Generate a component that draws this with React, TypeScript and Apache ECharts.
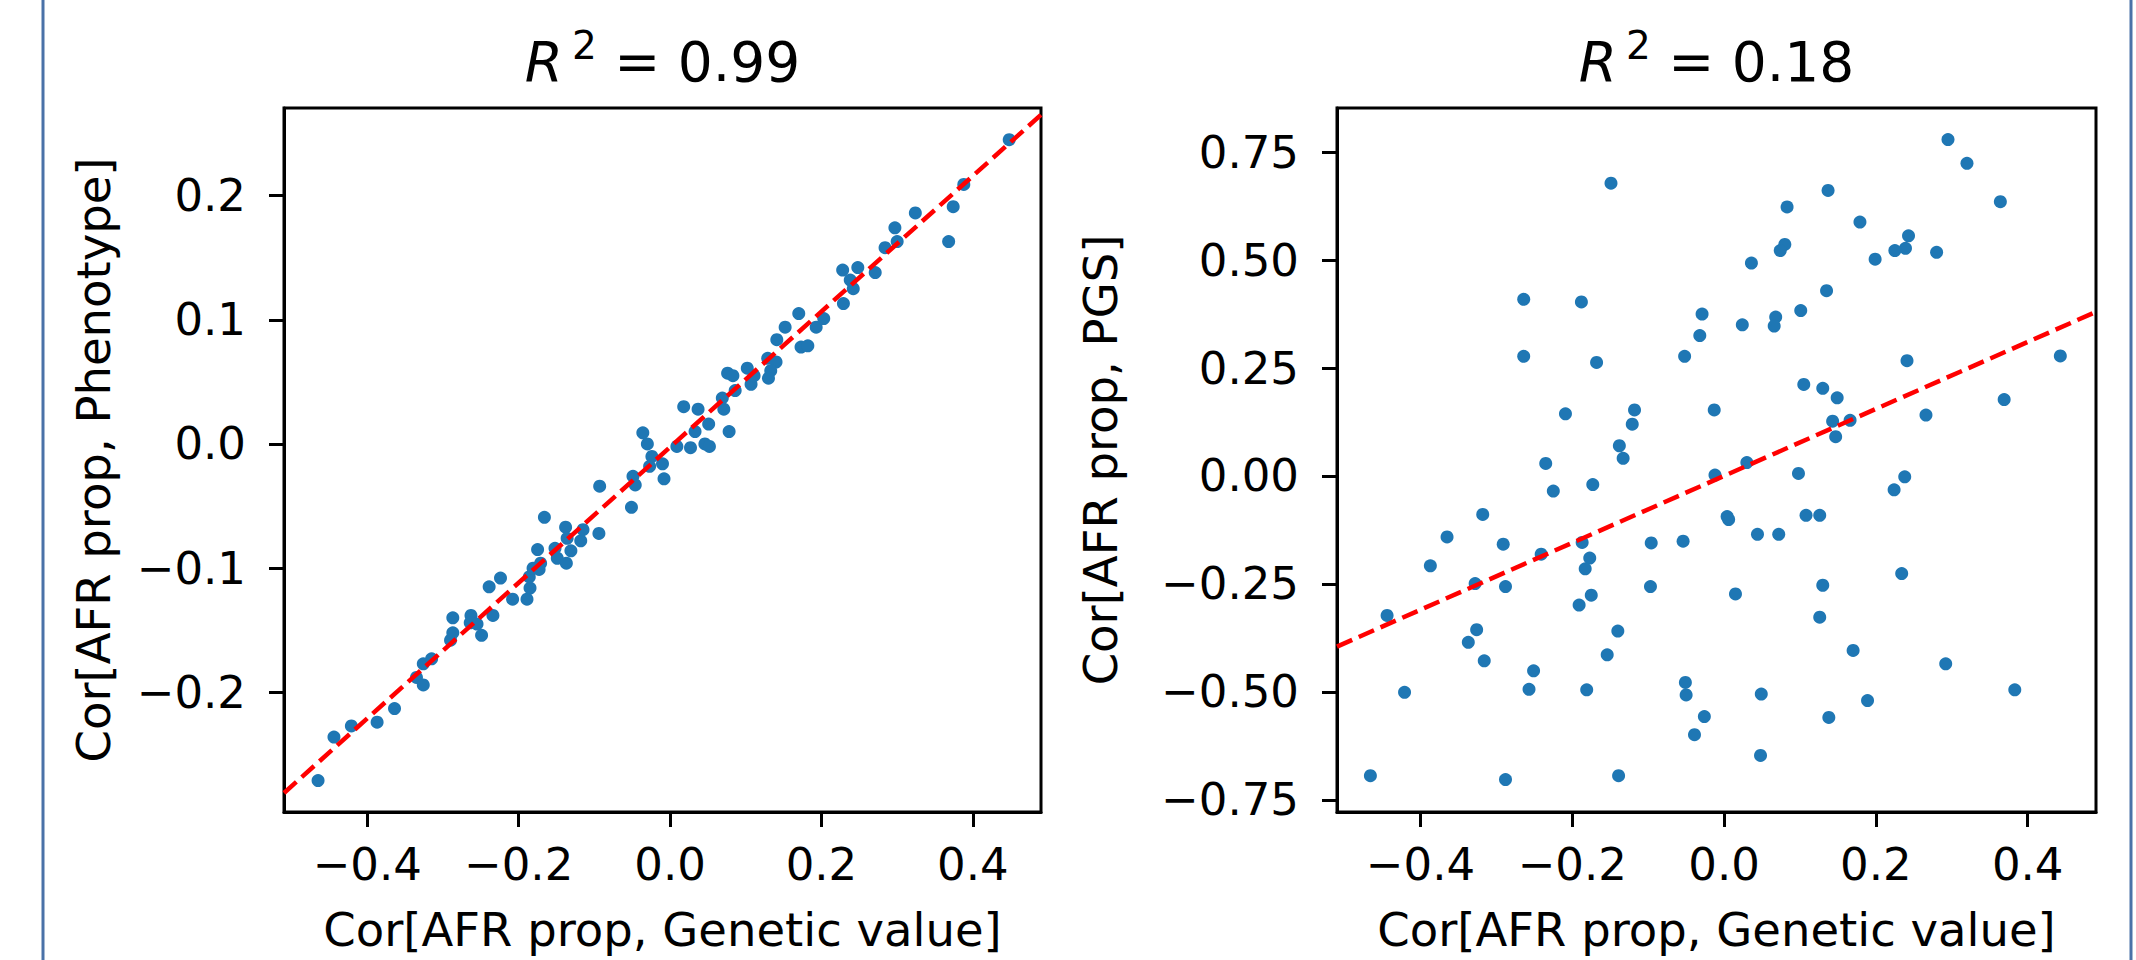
import React, { useEffect, useRef } from "react";
import * as echarts from "echarts";

// ---- data ----
const phenoX = [
  -0.465, -0.444, -0.421, -0.387, -0.364, -0.335, -0.326, -0.326, -0.315, -0.29,
  -0.287, -0.287, -0.263, -0.264, -0.255, -0.249, -0.234, -0.239, -0.224, -0.208,
  -0.189, -0.185, -0.186, -0.181, -0.173, -0.171, -0.175, -0.166, -0.152, -0.149,
  -0.137, -0.131, -0.138, -0.136, -0.118, -0.115, -0.094, -0.093, -0.051, -0.049,
  -0.046, -0.036, -0.03, -0.024, -0.027, -0.01, -0.008, 0.009, 0.027, 0.018,
  0.037, 0.033, 0.051, 0.046, 0.052, 0.078, 0.071, 0.069, 0.076, 0.083,
  0.086, 0.102, 0.107, 0.111, 0.129, 0.14, 0.133, 0.13, 0.141, 0.152,
  0.17, 0.193, 0.203, 0.173, 0.182, 0.229, 0.228, 0.248, 0.242, 0.238,
  0.271, 0.284, 0.297, 0.3, 0.324, 0.368, 0.374, 0.388, 0.448,
];
const phenoY = [
  -0.271, -0.236, -0.227, -0.224, -0.213, -0.188, -0.194, -0.177, -0.173, -0.158,
  -0.152, -0.14, -0.138, -0.144, -0.145, -0.154, -0.138, -0.115, -0.108, -0.125,
  -0.125, -0.116, -0.107, -0.1, -0.101, -0.096, -0.085, -0.059, -0.084, -0.092,
  -0.096, -0.086, -0.067, -0.076, -0.078, -0.069, -0.072, -0.034, -0.051, -0.026,
  -0.033, 0.009, 0.0, -0.01, -0.018, -0.016, -0.028, -0.002, -0.003, 0.03,
  0.028, 0.01, 0.016, 0.0, -0.002, 0.01, 0.028, 0.037, 0.057, 0.055,
  0.043, 0.061, 0.048, 0.055, 0.069, 0.066, 0.059, 0.053, 0.084, 0.094,
  0.105, 0.094, 0.101, 0.078, 0.079, 0.113, 0.14, 0.142, 0.125, 0.132,
  0.138, 0.158, 0.174, 0.163, 0.186, 0.163, 0.191, 0.209, 0.245,
];
const pgsX = [
  -0.149, -0.264, -0.188, -0.029, -0.032, -0.264, -0.052, -0.168, -0.013, -0.209,
  -0.118, -0.121, -0.138, -0.133, -0.235, -0.173, -0.012, 0.295, 0.32, 0.137,
  0.083, 0.364, 0.179, 0.243, 0.239, 0.225, 0.28, 0.199, 0.08, 0.074,
  0.036, 0.135, 0.101, 0.068, 0.066, 0.024, 0.241, 0.443, 0.105, 0.13,
  0.149, 0.369, 0.143, 0.166, 0.147, 0.266, 0.03, 0.098, 0.238, -0.225,
  -0.318, -0.365, -0.291, -0.187, -0.241, -0.096, -0.054, -0.177, -0.183, -0.387,
  -0.328, -0.288, -0.097, -0.175, -0.191, -0.444, -0.326, -0.14, -0.337, -0.316,
  -0.154, -0.251, -0.257, -0.181, -0.421, -0.051, -0.05, -0.026, -0.039, -0.466,
  -0.288, -0.139, 0.224, 0.004, 0.006, 0.108, 0.126, 0.044, 0.072, 0.234,
  0.13, 0.015, 0.126, 0.17, 0.292, 0.383, 0.049, 0.189, 0.138, 0.048,
];
const pgsY = [
  0.678, 0.409, 0.403, 0.375, 0.325, 0.277, 0.277, 0.263, 0.153, 0.144,
  0.153, 0.12, 0.07, 0.041, 0.029, -0.02, 0.002, 0.779, 0.724, 0.661,
  0.623, 0.635, 0.588, 0.556, 0.527, 0.522, 0.518, 0.502, 0.536, 0.522,
  0.493, 0.429, 0.383, 0.368, 0.347, 0.35, 0.267, 0.278, 0.212, 0.203,
  0.181, 0.177, 0.127, 0.129, 0.091, 0.141, 0.031, 0.006, -0.002, -0.035,
  -0.089, -0.141, -0.158, -0.154, -0.181, -0.155, -0.151, -0.19, -0.215, -0.208,
  -0.249, -0.256, -0.256, -0.276, -0.299, -0.323, -0.356, -0.359, -0.385, -0.428,
  -0.414, -0.451, -0.494, -0.495, -0.501, -0.478, -0.507, -0.557, -0.599, -0.694,
  -0.703, -0.694, -0.032, -0.094, -0.101, -0.091, -0.091, -0.135, -0.135, -0.226,
  -0.253, -0.273, -0.327, -0.404, -0.435, -0.495, -0.505, -0.52, -0.559, -0.647,
];
const fitPhenoX = [-0.51, 0.49];
const fitPhenoY = [-0.281, 0.265];
const fitPgsX = [-0.51, 0.49];
const fitPgsY = [-0.395, 0.38];

const xTicks = [-0.4, -0.2, 0, 0.2, 0.4];
const phenoTicks = [-0.2, -0.1, 0, 0.1, 0.2];
const pgsTicks = [-0.75, -0.5, -0.25, 0, 0.25, 0.5, 0.75];
const r2Values = ["0.99", "0.18"];
const xName = "Cor[AFR prop, Genetic value]";
const yNames = ["Cor[AFR prop, Phenotype]", "Cor[AFR prop, PGS]"];

const FONT = "DejaVu Sans";
const GRIDS = [
  { left: 284, top: 108, width: 757, height: 704 },
  { left: 1337, top: 108, width: 759, height: 704 },
];

const fmt = (d: number) => (v: number) =>
  (v < -1e-9 ? "\u2212" : "") + Math.abs(v).toFixed(d);

const zip = (a: number[], b: number[]) => a.map((x, i) => [x, b[i]]);

function xAxisCfg(gridIndex: number) {
  return {
    type: "value",
    gridIndex,
    min: -0.51,
    max: 0.49,
    name: xName,
    nameLocation: "middle",
    nameGap: 94,
    nameTextStyle: { fontFamily: FONT, fontSize: 46.5, color: "#000" },
    axisLine: { show: true, onZero: false, lineStyle: { color: "#000", width: 3 } },
    axisTick: { show: true, inside: false, length: 15, customValues: xTicks, lineStyle: { color: "#000", width: 3 } },
    axisLabel: { customValues: xTicks, formatter: fmt(1), fontFamily: FONT, fontSize: 45, color: "#000", margin: 30 },
    splitLine: { show: false },
  };
}

function yAxisCfg(gridIndex: number, min: number, max: number, ticks: number[], d: number, gap: number) {
  return {
    type: "value",
    gridIndex,
    min,
    max,
    name: yNames[gridIndex],
    nameLocation: "middle",
    nameGap: gap,
    nameTextStyle: { fontFamily: FONT, fontSize: 46.5, color: "#000" },
    axisLine: { show: true, onZero: false, lineStyle: { color: "#000", width: 3 } },
    axisTick: { show: true, inside: false, length: 15, customValues: ticks, lineStyle: { color: "#000", width: 3 } },
    axisLabel: { customValues: ticks, formatter: fmt(d), fontFamily: FONT, fontSize: 45, color: "#000", margin: 38 },
    splitLine: { show: false },
  };
}

function titleGraphics() {
  const canvas = document.createElement("canvas");
  const ctx = canvas.getContext("2d")!;
  const measure = (t: string, f: string) => {
    ctx.font = f;
    return ctx.measureText(t).width;
  };
  const out: any[] = [];
  GRIDS.forEach((g, i) => {
    const cx = g.left + g.width / 2;
    const rest = " = " + r2Values[i];
    const wR = measure("R", `italic 55px "${FONT}"`);
    const w2 = measure("2", `39px "${FONT}"`);
    const wN = measure(rest, `55px "${FONT}"`);
    const gapR = 9;
    const total = wR + gapR + w2 + wN;
    const x0 = cx - total / 2;
    out.push({
      type: "text",
      x: x0,
      y: 62,
      style: { text: "R", fontFamily: FONT, fontSize: 55, fontStyle: "italic", fill: "#000", align: "left", verticalAlign: "middle" },
    });
    out.push({
      type: "text",
      x: x0 + wR + gapR,
      y: 45,
      style: { text: "2", fontFamily: FONT, fontSize: 39, fill: "#000", align: "left", verticalAlign: "middle" },
    });
    out.push({
      type: "text",
      x: x0 + wR + gapR + w2,
      y: 62,
      style: { text: rest, fontFamily: FONT, fontSize: 55, fill: "#000", align: "left", verticalAlign: "middle" },
    });
  });
  // blue frame lines on the page edges
  out.push({ type: "line", shape: { x1: 43, y1: 0, x2: 43, y2: 960 }, style: { stroke: "#4a72a8", lineWidth: 3 } });
  out.push({ type: "line", shape: { x1: 2131, y1: 0, x2: 2131, y2: 960 }, style: { stroke: "#4a72a8", lineWidth: 3 } });
  return out;
}

export default function App() {
  const ref = useRef<HTMLDivElement>(null);
  useEffect(() => {
    if (!ref.current) return;
    const chart = echarts.init(ref.current, undefined, { renderer: "svg" });
    const scatterStyle = { color: "#1f77b4", opacity: 1 };
    const lineStyle = { color: "#ff0000", width: 4.5, type: [16.6, 7.2] };
    chart.setOption({
      animation: false,
      backgroundColor: "#ffffff",
      grid: GRIDS.map((g) => ({
        ...g,
        show: true,
        borderColor: "#000",
        borderWidth: 3,
        backgroundColor: "transparent",
        containLabel: false,
      })),
      xAxis: [xAxisCfg(0), xAxisCfg(1)],
      yAxis: [
        yAxisCfg(0, -0.2963, 0.2705, phenoTicks, 1, 167),
        yAxisCfg(1, -0.778, 0.852, pgsTicks, 2, 213),
      ],
      series: [
        {
          type: "scatter",
          xAxisIndex: 0,
          yAxisIndex: 0,
          data: zip(phenoX, phenoY),
          symbolSize: 13,
          itemStyle: scatterStyle,
          z: 2,
        },
        {
          type: "line",
          xAxisIndex: 0,
          yAxisIndex: 0,
          data: zip(fitPhenoX, fitPhenoY),
          showSymbol: false,
          lineStyle,
          z: 3,
        },
        {
          type: "scatter",
          xAxisIndex: 1,
          yAxisIndex: 1,
          data: zip(pgsX, pgsY),
          symbolSize: 13,
          itemStyle: scatterStyle,
          z: 2,
        },
        {
          type: "line",
          xAxisIndex: 1,
          yAxisIndex: 1,
          data: zip(fitPgsX, fitPgsY),
          showSymbol: false,
          lineStyle,
          z: 3,
        },
      ],
      graphic: titleGraphics(),
    });
    return () => chart.dispose();
  }, []);
  return (
    <div
      ref={ref}
      style={{ position: "absolute", left: 0, top: 0, width: 2136, height: 960, background: "#fff" }}
    />
  );
}
